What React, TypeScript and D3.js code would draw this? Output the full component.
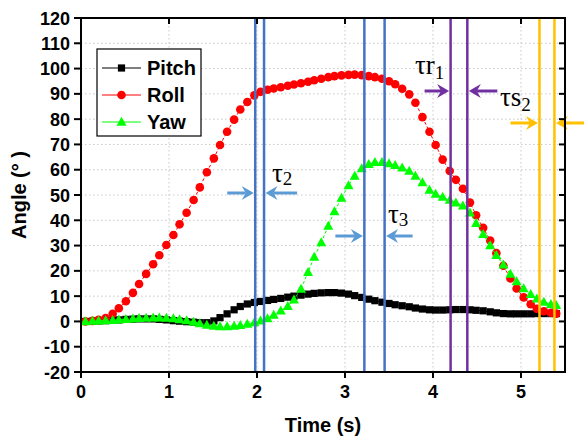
import React from "react";
import * as d3 from "d3";

const TIME = [0.05,0.13,0.20,0.28,0.36,0.43,0.51,0.59,0.66,0.74,0.82,0.89,0.97,1.05,1.12,1.20,1.28,1.35,1.43,1.51,1.58,1.66,1.74,1.81,1.89,1.97,2.04,2.12,2.19,2.27,2.35,2.42,2.50,2.58,2.65,2.73,2.81,2.88,2.96,3.04,3.11,3.19,3.27,3.34,3.42,3.50,3.57,3.65,3.73,3.80,3.88,3.96,4.03,4.11,4.19,4.26,4.34,4.42,4.49,4.57,4.65,4.72,4.80,4.88,4.95,5.03,5.11,5.18,5.26,5.34,5.40];

const PITCH = [0,0.1,0.2,0.3,0.4,0.6,0.8,0.9,1.0,1.0,1.0,0.8,0.6,0.3,0.1,-0.1,-0.3,-0.5,-0.5,0.2,1.5,3.0,4.6,5.9,6.9,7.5,7.9,8.3,8.7,9.1,9.6,10.0,10.4,10.8,11.1,11.3,11.4,11.4,11.2,10.8,10.2,9.5,8.8,8.2,7.6,7.1,6.6,6.2,5.8,5.3,4.9,4.6,4.5,4.5,4.6,4.7,4.7,4.6,4.4,4.2,3.8,3.4,3.1,3.0,3.0,3.0,3.0,3.1,3.1,3.1,3.1];

const ROLL = [0,0.2,0.6,1.3,3.0,5.2,8.0,11.3,14.8,18.8,22.6,26.2,30.2,34.2,38.4,43.0,48.0,53.0,59.0,64.5,69.8,75.0,79.8,83.8,86.8,89.4,90.8,91.6,92.1,92.6,93.2,93.7,94.2,94.8,95.4,96.0,96.6,97.0,97.3,97.5,97.6,97.4,97.0,96.6,96.0,95.0,93.8,92.0,89.8,86.5,80.8,75.0,69.8,64.0,59.5,56.0,52.5,47.0,42.0,37.0,32.0,27.0,22.0,17.0,13.0,9.5,6.8,5.0,4.0,3.4,3.1];

const YAW = [0,0.2,0.3,0.4,0.5,0.7,0.9,1.1,1.3,1.4,1.5,1.5,1.4,1.2,0.8,0.4,-0.2,-0.8,-1.4,-1.8,-2.0,-2.0,-1.8,-1.5,-1.0,-0.4,0.3,1.2,2.6,4.2,6.0,8.6,12.8,19.5,25.5,31.2,37.8,43.5,48.8,53.8,57.5,60.5,62.2,63.0,63.0,62.5,61.8,60.8,59.5,57.5,55.0,52.0,50.4,49.2,48.0,47.0,45.8,43.0,38.8,34.5,30.0,26.2,22.4,18.8,15.8,13.0,10.8,9.0,7.7,6.8,6.4];

const X_TICKS = [0, 1, 2, 3, 4, 5];
const Y_TICKS = [-20, -10, 0, 10, 20, 30, 40, 50, 60, 70, 80, 90, 100, 110, 120];

// marker lines (time, s)
const LINES_BLUE = [1.98, 2.08, 3.22, 3.45];
const LINES_PURPLE = [4.2, 4.39];
const LINES_ORANGE = [5.21, 5.38];

const ML = 81, MT = 18, MR = 565, MB = 372;
const x = d3.scaleLinear().domain([0, 5.5]).range([ML, MR]);
const y = d3.scaleLinear().domain([-20, 120]).range([MB, MT]);

const FONT = "'Liberation Sans', Arial, sans-serif";
const SERIF = "'Liberation Serif', 'DejaVu Serif', serif";

const BLUE = "#4472C4";
const ARROW_BLUE = "#5B9BD5";
const PURPLE = "#7030A0";
const ORANGE = "#FFC000";

function Arrow({ tip, tail, yy, color }: { tip: number; tail: number; yy: number; color: string }) {
  const dir = tip > tail ? 1 : -1;
  const L = 12, W = 7, notch = 4;
  const base = tip - dir * L;
  const head = `M${tip},${yy} L${base},${yy - W} L${base + dir * notch},${yy} L${base},${yy + W} Z`;
  return (
    <g>
      <line x1={tail} x2={base + dir * notch} y1={yy} y2={yy} stroke={color} strokeWidth={3} />
      <path d={head} fill={color} />
    </g>
  );
}

function Square({ cx, cy }: { cx: number; cy: number }) {
  return <rect x={cx - 3.6} y={cy - 3.6} width={7.2} height={7.2} fill="#000" />;
}
function Tri({ cx, cy }: { cx: number; cy: number }) {
  return <path d={`M${cx},${cy - 5.2} L${cx + 5},${cy + 3.8} L${cx - 5},${cy + 3.8} Z`} fill="#00FF00" />;
}

export default function App() {
  const line = d3.line<number>().x((_, i) => x(TIME[i])).y((d) => y(d));
  const pairs = (arr: number[]) => arr.map((v, i) => [x(TIME[i]), y(v)] as [number, number]);

  const legendItems = [
    { name: "Pitch", color: "#000", kind: "sq", yy: 68 },
    { name: "Roll", color: "#FF0000", kind: "ci", yy: 95 },
    { name: "Yaw", color: "#00FF00", kind: "tr", yy: 122 },
  ];

  return (
    <svg width={584} height={440} style={{ position: "absolute", left: 0, top: 0, background: "#fff" }}>
      {/* grid */}
      {X_TICKS.filter((t) => t > 0).map((t) => (
        <line key={"gx" + t} x1={x(t)} x2={x(t)} y1={MT} y2={MB} stroke="#c8c8c8" strokeWidth={1} strokeDasharray="1.5,2.5" />
      ))}
      {Y_TICKS.filter((t) => t > -20 && t < 120).map((t) => (
        <line key={"gy" + t} x1={ML} x2={MR} y1={y(t)} y2={y(t)} stroke="#c8c8c8" strokeWidth={1} strokeDasharray="1.5,2.5" />
      ))}

      {/* Pitch */}
      <path d={line(PITCH) || ""} fill="none" stroke="#000" strokeWidth={1} />
      {pairs(PITCH).map(([cx, cy], i) => <Square key={"p" + i} cx={cx} cy={cy} />)}
      {/* Roll */}
      <path d={line(ROLL) || ""} fill="none" stroke="#FF0000" strokeWidth={1} strokeDasharray="3,2" />
      {pairs(ROLL).map(([cx, cy], i) => <circle key={"r" + i} cx={cx} cy={cy} r={4.3} fill="#FF0000" />)}
      {/* Yaw */}
      <path d={line(YAW) || ""} fill="none" stroke="#00FF00" strokeWidth={1} strokeDasharray="3,2" />
      {pairs(YAW).map(([cx, cy], i) => <Tri key={"y" + i} cx={cx} cy={cy} />)}

      {/* vertical marker lines */}
      {LINES_BLUE.map((t) => <line key={"b" + t} x1={x(t)} x2={x(t)} y1={MT} y2={MB} stroke={BLUE} strokeWidth={2.5} />)}
      {LINES_PURPLE.map((t) => <line key={"pu" + t} x1={x(t)} x2={x(t)} y1={MT} y2={MB} stroke={PURPLE} strokeWidth={2.5} />)}
      {LINES_ORANGE.map((t) => <line key={"o" + t} x1={x(t)} x2={x(t)} y1={MT} y2={MB} stroke={ORANGE} strokeWidth={2.5} />)}

      {/* arrows */}
      <Arrow tip={x(LINES_BLUE[0]) - 1.5} tail={x(LINES_BLUE[0]) - 28} yy={193} color={ARROW_BLUE} />
      <Arrow tip={x(LINES_BLUE[1]) + 1.5} tail={x(LINES_BLUE[1]) + 33} yy={193} color={ARROW_BLUE} />
      <Arrow tip={x(LINES_BLUE[2]) - 1.5} tail={x(LINES_BLUE[2]) - 29} yy={236} color={ARROW_BLUE} />
      <Arrow tip={x(LINES_BLUE[3]) + 1.5} tail={x(LINES_BLUE[3]) + 28} yy={236} color={ARROW_BLUE} />
      <Arrow tip={x(LINES_PURPLE[0]) - 1.5} tail={x(LINES_PURPLE[0]) - 26} yy={91} color={PURPLE} />
      <Arrow tip={x(LINES_PURPLE[1]) + 1.5} tail={x(LINES_PURPLE[1]) + 30} yy={91} color={PURPLE} />
      <Arrow tip={x(LINES_ORANGE[0]) - 1.5} tail={x(LINES_ORANGE[0]) - 29} yy={123} color={ORANGE} />
      <Arrow tip={x(LINES_ORANGE[1]) + 1.5} tail={x(LINES_ORANGE[1]) + 32} yy={123} color={ORANGE} />

      {/* annotations */}
      <text x={272} y={182} fontFamily={SERIF} fontSize={27} fill="#000">τ<tspan fontSize={19} dy={3}>2</tspan></text>
      <text x={388} y={223} fontFamily={SERIF} fontSize={27} fill="#000">τ<tspan fontSize={19} dy={3}>3</tspan></text>
      <text x={415} y={74} fontFamily={SERIF} fontSize={27} fill="#000">τr<tspan fontSize={19} dy={5}>1</tspan></text>
      <text x={500} y={106} fontFamily={SERIF} fontSize={27} fill="#000">τs<tspan fontSize={19} dy={5}>2</tspan></text>

      {/* frame */}
      <rect x={ML} y={MT} width={MR - ML} height={MB - MT} fill="none" stroke="#000" strokeWidth={2} />

      {/* ticks */}
      {X_TICKS.map((t) => (
        <g key={"xt" + t}>
          <line x1={x(t)} x2={x(t)} y1={MB} y2={MB + 6} stroke="#000" strokeWidth={2} />
          <line x1={x(t)} x2={x(t)} y1={MT} y2={MT + 6} stroke="#000" strokeWidth={2} />
          <text x={x(t)} y={MB + 26} textAnchor="middle" fontFamily={FONT} fontWeight="bold" fontSize={18}>{t}</text>
        </g>
      ))}
      {Y_TICKS.map((t) => (
        <g key={"yt" + t}>
          <line x1={ML - 7} x2={ML} y1={y(t)} y2={y(t)} stroke="#000" strokeWidth={2} />
          <line x1={MR - 6} x2={MR} y1={y(t)} y2={y(t)} stroke="#000" strokeWidth={2} />
          <text x={70} y={y(t) + 6.5} textAnchor="end" fontFamily={FONT} fontWeight="bold" fontSize={18}>{t}</text>
        </g>
      ))}

      {/* axis titles */}
      <text x={(ML + MR) / 2} y={432} textAnchor="middle" fontFamily={FONT} fontWeight="bold" fontSize={20}>Time (s)</text>
      <text transform={`translate(26,${(MT + MB) / 2}) rotate(-90)`} textAnchor="middle" fontFamily={FONT} fontWeight="bold" fontSize={20}>Angle (° )</text>

      {/* legend */}
      <rect x={97} y={49} width={104} height={87} fill="#fff" stroke="#000" strokeWidth={1.2} />
      {legendItems.map((it) => (
        <g key={it.name}>
          <line x1={102} x2={141} y1={it.yy} y2={it.yy} stroke={it.color} strokeWidth={1} />
          {it.kind === "sq" && <Square cx={121.5} cy={it.yy} />}
          {it.kind === "ci" && <circle cx={121.5} cy={it.yy} r={4.3} fill="#FF0000" />}
          {it.kind === "tr" && <Tri cx={121.5} cy={it.yy} />}
          <text x={147} y={it.yy + 7} fontFamily={FONT} fontWeight="bold" fontSize={20}>{it.name}</text>
        </g>
      ))}
    </svg>
  );
}
